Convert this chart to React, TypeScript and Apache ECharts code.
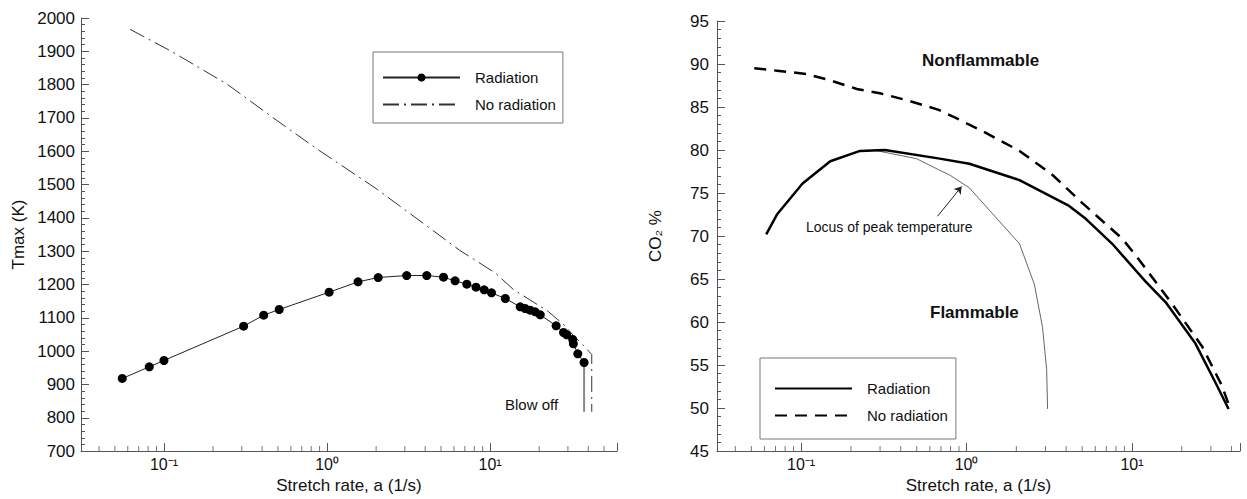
import React, { useEffect, useRef } from "react";
import * as echarts from "echarts";

const FONT = '"Liberation Sans", Arial, Helvetica, sans-serif';

// ---------- Left panel: maximum flame temperature vs stretch rate ----------
const tmaxRadiation: [number, number][] = [
  [0.0555, 918], [0.0813, 953], [0.1, 972], [0.308, 1075], [0.409, 1108],
  [0.509, 1125], [1.03, 1177], [1.55, 1208], [2.06, 1221], [3.08, 1227],
  [4.09, 1227], [5.18, 1222], [6.1, 1211], [7.2, 1201], [8.2, 1192],
  [9.2, 1184], [10.2, 1175], [12.4, 1158], [15.3, 1133], [16.4, 1128],
  [17.6, 1123], [18.9, 1118], [20.3, 1109], [25.4, 1076], [28.2, 1056],
  [29.5, 1049], [32.1, 1035], [32.4, 1022], [34.5, 992], [37.7, 966],
];
const tmaxNoRadiation: [number, number][] = [
  [0.062, 1966], [0.111, 1900], [0.243, 1802], [0.491, 1693], [0.885, 1604],
  [2.0, 1488], [6.5, 1303], [10.8, 1234], [13.9, 1185], [22.6, 1120],
  [28.8, 1076], [32.4, 1047], [36, 1025], [42, 990], [42, 818],
];
const tmaxBlowOff: [number, number][] = [[37.7, 966], [37.7, 818]];

// ---------- Right panel: CO2 limit vs stretch rate ----------
const co2Radiation: [number, number][] = [
  [0.0615, 70.2], [0.0714, 72.5], [0.102, 76.1], [0.15, 78.7], [0.227, 79.9],
  [0.321, 80.0], [0.688, 79.0], [1.04, 78.4], [2.09, 76.5], [4.17, 73.5],
  [5.26, 72.0], [7.6, 69.1], [12.1, 64.7], [16.0, 62.3], [24.2, 57.5],
  [31.9, 53.0], [38.4, 49.9],
];
const co2NoRadiation: [number, number][] = [
  [0.0521, 89.5], [0.0736, 89.2], [0.107, 88.85], [0.15, 88.1], [0.217, 87.1],
  [0.299, 86.6], [0.434, 85.8], [0.672, 84.7], [0.867, 83.7], [1.25, 82.2],
  [2.09, 79.9], [3.31, 77.1], [5.0, 73.85], [8.73, 69.7], [10.5, 67.8],
  [17.5, 62.1], [26.5, 57.2], [35.0, 52.6], [39.3, 49.9],
];
const co2Locus: [number, number][] = [
  [0.273, 80.0], [0.498, 79.0], [0.688, 77.65], [0.79, 77.1], [1.04, 75.6],
  [2.09, 69.1], [2.57, 64.4], [2.88, 59.4], [3.05, 54.5], [3.09, 49.9],
];
const locusArrow: [number, number][] = [[0.668, 72.3], [0.933, 75.75]];

// ---------- Axes ----------
const decadeLabels: Record<string, string> = { "-1": "10⁻¹", "0": "10⁰", "1": "10¹" };
const leftMinorTicks = [0.04, 0.05, 0.06, 0.07, 0.08, 0.09, 0.2, 0.3, 0.4, 0.5, 0.6, 0.7, 0.8, 0.9,
  2, 3, 4, 5, 6, 7, 8, 9, 20, 30, 40, 50];
const rightMinorTicks = [0.04, 0.05, 0.06, 0.07, 0.08, 0.09, 0.2, 0.3, 0.4, 0.5, 0.6, 0.7, 0.8, 0.9,
  2, 3, 4, 5, 6, 7, 8, 9, 20, 30, 40];
const leftX = { min: 0.031, max: 60 };
const rightX = { min: 0.031, max: 45 };
const leftY = { min: 700, max: 2000, interval: 100 };
const rightY = { min: 45, max: 95, interval: 5 };

const AXIS_COLOR = "#555";
const TEXT_COLOR = "#111";

function decadeFormatter(v: number) {
  const l = Math.log10(v);
  const r = Math.round(l);
  if (Math.abs(l - r) < 1e-6 && decadeLabels[String(r)] !== undefined) return decadeLabels[String(r)];
  return "";
}

function xAxis(gridIndex: number, range: { min: number; max: number }, gap: number) {
  return {
    type: "log",
    logBase: 10,
    gridIndex,
    min: range.min,
    max: range.max,
    name: "Stretch rate, a (1/s)",
    nameLocation: "middle",
    nameGap: gap,
    nameTextStyle: { fontFamily: FONT, fontSize: 17, color: TEXT_COLOR },
    axisLine: { show: true, onZero: false, lineStyle: { color: AXIS_COLOR, width: 1 } },
    axisTick: { show: true, inside: true, length: 8, lineStyle: { color: AXIS_COLOR } },
    minorTick: { show: false },
    axisLabel: { fontFamily: FONT, fontSize: 16, color: TEXT_COLOR, margin: 5, formatter: decadeFormatter },
    splitLine: { show: false },
  };
}

function yAxis(gridIndex: number, r: { min: number; max: number; interval: number }, name: string, margin: number, gap: number) {
  return {
    type: "value",
    gridIndex,
    min: r.min,
    max: r.max,
    interval: r.interval,
    name,
    nameLocation: "middle",
    nameGap: gap,
    nameRotate: 90,
    nameTextStyle: { fontFamily: FONT, fontSize: 17, color: TEXT_COLOR },
    axisLine: { show: true, lineStyle: { color: AXIS_COLOR, width: 1 } },
    axisTick: { show: true, inside: true, length: 8, lineStyle: { color: AXIS_COLOR } },
    minorTick: { show: true, splitNumber: 5, length: 4, lineStyle: { color: AXIS_COLOR } },
    axisLabel: {
      fontFamily: FONT, fontSize: 17, color: TEXT_COLOR, margin,
      formatter: (v: number) => String(v),
    },
    splitLine: { show: false },
  };
}

function minorTickSeries(xi: number, values: number[], yMin: number) {
  return {
    type: "scatter",
    xAxisIndex: xi,
    yAxisIndex: xi,
    data: values.map((v) => [v, yMin]),
    symbol: "rect",
    symbolSize: [1, 5],
    symbolOffset: [0, -2.5],
    itemStyle: { color: AXIS_COLOR },
    silent: true,
    clip: false,
    z: 1,
  };
}

const legendNames: Record<string, string> = {
  "CO2 radiation": "Radiation",
  "CO2 no radiation": "No radiation",
};

const hiddenSymbol = { opacity: 0 };

function buildOption() {
  return {
    animation: false,
    backgroundColor: "#fff",
    grid: [
      { left: 81, top: 18, width: 536, height: 439 },
      { left: 717, top: 21, width: 523, height: 439 },
    ],
    xAxis: [xAxis(0, leftX, 23), xAxis(1, rightX, 22)],
    yAxis: [
      yAxis(0, leftY, "Tmax (K)", 6, 54),
      yAxis(1, rightY, "CO₂ %", 8, 53),
    ],
    legend: [
      {
        orient: "vertical",
        left: 373,
        top: 52,
        data: [
          { name: "Radiation" },
          { name: "No radiation", itemStyle: hiddenSymbol },
        ],
        itemWidth: 77,
        itemHeight: 10,
        itemGap: 12,
        padding: [18, 7, 11, 9],
        borderColor: "#777",
        borderWidth: 1,
        selectedMode: false,
        textStyle: { fontFamily: FONT, fontSize: 15, color: TEXT_COLOR, padding: [0, 0, 0, 10] },
      },
      {
        orient: "vertical",
        left: 760,
        top: 358,
        data: [
          { name: "CO2 radiation", itemStyle: hiddenSymbol },
          { name: "CO2 no radiation", itemStyle: hiddenSymbol },
        ],
        formatter: (n: string) => legendNames[n] || n,
        itemWidth: 77,
        itemHeight: 10,
        itemGap: 12,
        padding: [23, 8, 16, 14],
        borderColor: "#777",
        borderWidth: 1,
        selectedMode: false,
        textStyle: { fontFamily: FONT, fontSize: 15, color: TEXT_COLOR, padding: [0, 0, 0, 10] },
      },
    ],
    series: [
      {
        name: "Radiation",
        type: "line",
        xAxisIndex: 0,
        yAxisIndex: 0,
        data: tmaxRadiation,
        symbol: "circle",
        symbolSize: 9,
        itemStyle: { color: "#000" },
        lineStyle: { color: "#222", width: 1 },
        z: 5,
      },
      {
        name: "No radiation",
        type: "line",
        xAxisIndex: 0,
        yAxisIndex: 0,
        data: tmaxNoRadiation,
        symbol: "none",
        itemStyle: { color: "#333" },
        lineStyle: { color: "#333", width: 1, type: [16, 5, 2, 5] },
        z: 4,
      },
      {
        name: "Blow off",
        type: "line",
        xAxisIndex: 0,
        yAxisIndex: 0,
        data: tmaxBlowOff,
        symbol: "none",
        lineStyle: { color: "#888", width: 2 },
        silent: true,
        z: 3,
      },
      {
        name: "CO2 radiation",
        type: "line",
        xAxisIndex: 1,
        yAxisIndex: 1,
        data: co2Radiation,
        symbol: "none",
        itemStyle: { color: "#000" },
        lineStyle: { color: "#000", width: 2.5 },
        z: 5,
      },
      {
        name: "CO2 no radiation",
        type: "line",
        xAxisIndex: 1,
        yAxisIndex: 1,
        data: co2NoRadiation,
        symbol: "none",
        itemStyle: { color: "#000" },
        lineStyle: { color: "#000", width: 2.5, type: [12, 8] },
        z: 5,
      },
      {
        name: "Locus of peak temperature",
        type: "line",
        xAxisIndex: 1,
        yAxisIndex: 1,
        data: co2Locus,
        symbol: "none",
        lineStyle: { color: "#666", width: 1 },
        z: 4,
        markLine: {
          silent: true,
          symbol: ["none", "arrow"],
          symbolSize: 7,
          lineStyle: { color: "#222", width: 1, type: "solid" },
          label: { show: false },
          data: [[{ coord: locusArrow[0] }, { coord: locusArrow[1] }]],
        },
      },
      minorTickSeries(0, leftMinorTicks, leftY.min),
      minorTickSeries(1, rightMinorTicks, rightY.min),
    ],
    graphic: [
      { type: "text", x: 505, y: 404, style: { text: "Blow off", fontFamily: FONT, fontSize: 15, fill: TEXT_COLOR, verticalAlign: "middle" } },
      { type: "text", x: 922, y: 60, style: { text: "Nonflammable", fontFamily: FONT, fontSize: 17, fontWeight: "bold", fill: TEXT_COLOR, verticalAlign: "middle" } },
      { type: "text", x: 930, y: 312, style: { text: "Flammable", fontFamily: FONT, fontSize: 17, fontWeight: "bold", fill: TEXT_COLOR, verticalAlign: "middle" } },
      { type: "text", x: 806, y: 227, style: { text: "Locus of peak temperature", fontFamily: FONT, fontSize: 14, fill: TEXT_COLOR, verticalAlign: "middle" } },
    ],
  };
}

export default function App() {
  const ref = useRef<HTMLDivElement>(null);
  useEffect(() => {
    if (!ref.current) return;
    const chart = echarts.init(ref.current, null, { renderer: "svg" });
    chart.setOption(buildOption() as any);
    return () => chart.dispose();
  }, []);
  return (
    <div
      ref={ref}
      style={{ position: "absolute", left: 0, top: 0, width: 1247, height: 499, background: "#fff" }}
    />
  );
}
